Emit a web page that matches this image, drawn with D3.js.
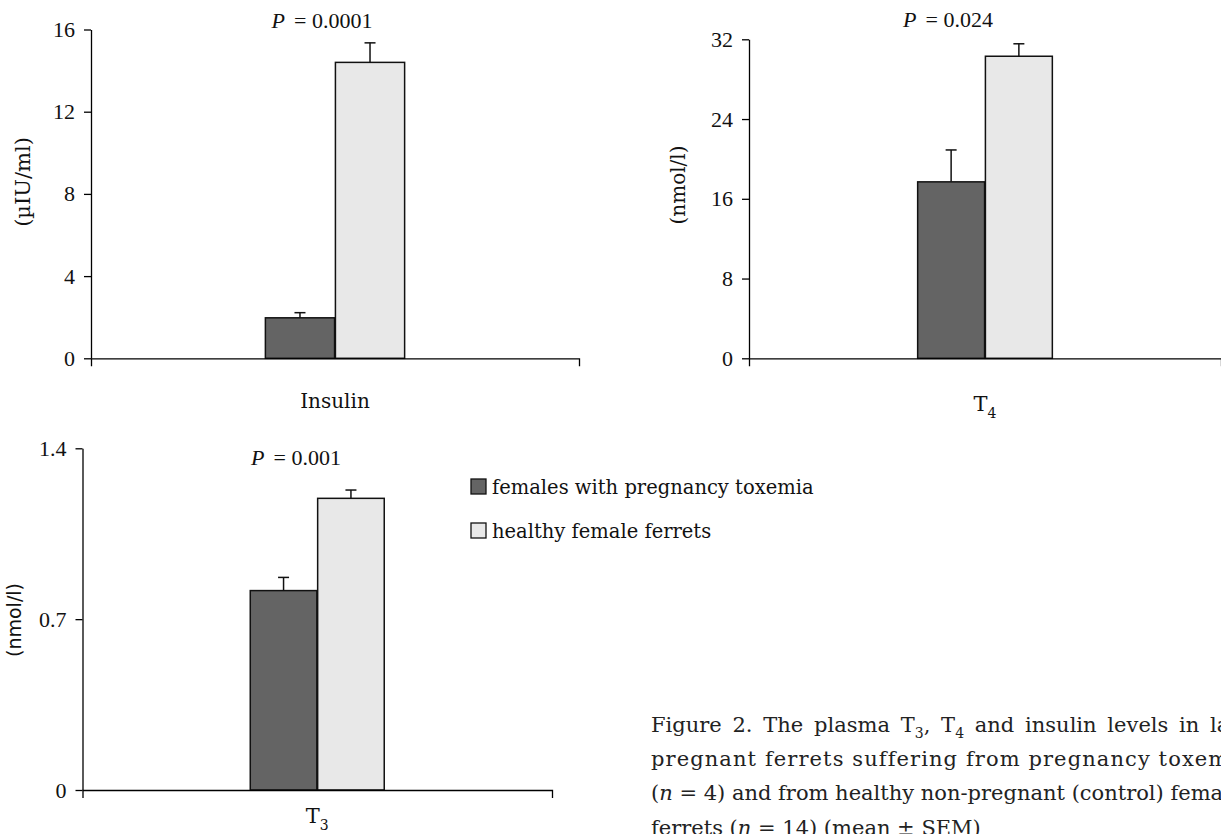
<!DOCTYPE html>
<html>
<head>
<meta charset="utf-8">
<script src="https://cdn.jsdelivr.net/npm/d3@7"></script>
<style>
  body { margin: 0; background: #fff; }
  svg { display: block; font-family: "DejaVu Serif", serif; }
  .axis path, .axis line { stroke: #000; stroke-width: 1.3; }
  .axis text { font-family: "Liberation Serif", serif; font-size: 22px; fill: #111; }
</style>
</head>
<body>
<script>
    // data
    var panelNames = ["Insulin", "T4", "T3"];
    var groups = ["toxemia", "healthy"];
    var toxemiaMean = [1.97, 17.7, 0.817];
    var toxemiaSem = [0.25, 3.2, 0.054];
    var healthyMean = [14.4, 30.3, 1.195];
    var healthySem = [0.95, 1.25, 0.034];
    var yMax = [16, 32, 1.4];
    var yTicks = [[0, 4, 8, 12, 16], [0, 8, 16, 24, 32], [0, 0.7, 1.4]];
    var pValues = ["0.0001", "0.024", "0.001"];
    var units = ["(\u00b5IU/ml)", "(nmol/l)", "(nmol/l)"];
    var legendLabels = ["females with pregnancy toxemia", "healthy female ferrets"];

    var colors = { toxemia: "#646464", healthy: "#e8e8e8" };

    // panel frames: plot area edges plus label anchors
    var frames = [
        { x0: 91, x1: 579, y0: 29.5, y1: 358.3, pX: 322, pY: 28, unitX: 30, unitY: 182, unitSize: 21, labelY: 408 },
        { x0: 749, x1: 1221, y0: 39.3, y1: 358.3, pX: 948, pY: 27, unitX: 685, unitY: 185, unitSize: 20, labelY: 411 },
        { x0: 82.5, x1: 552, y0: 448.3, y1: 790, pX: 296, pY: 465, unitX: 21, unitY: 620, unitSize: 19, labelY: 823 }
    ];

    var svg = d3.select("body").append("svg").attr("width", 1221).attr("height", 834);

    panelNames.forEach(function (name, i) {
        var f = frames[i];
        var g = svg.append("g");

        var y = d3.scaleLinear().domain([0, yMax[i]]).range([f.y1, f.y0]);
        var x = d3.scaleBand().domain([name]).range([f.x0, f.x1]).padding(0.556);
        var xs = d3.scaleBand().domain(groups).range([0, x.bandwidth()]).paddingInner(0.012);

        var rows = [
            { key: "toxemia", mean: toxemiaMean[i], sem: toxemiaSem[i] },
            { key: "healthy", mean: healthyMean[i], sem: healthySem[i] }
        ];

        // bars
        var bars = g.append("g").attr("transform", "translate(" + x(name) + ",0)");
        bars.selectAll("rect").data(rows).enter().append("rect")
            .attr("x", function (d) { return xs(d.key); })
            .attr("width", xs.bandwidth())
            .attr("y", function (d) { return y(d.mean); })
            .attr("height", function (d) { return y(0) - y(d.mean); })
            .attr("fill", function (d) { return colors[d.key]; })
            .attr("stroke", "#111").attr("stroke-width", 1.5);

        // error bars, upper half only
        var err = bars.selectAll(".err").data(rows).enter().append("g").attr("class", "err")
            .attr("stroke", "#111").attr("stroke-width", 1.5);
        err.append("line")
            .attr("x1", function (d) { return xs(d.key) + xs.bandwidth() / 2; })
            .attr("x2", function (d) { return xs(d.key) + xs.bandwidth() / 2; })
            .attr("y1", function (d) { return y(d.mean); })
            .attr("y2", function (d) { return y(d.mean + d.sem); });
        err.append("line")
            .attr("x1", function (d) { return xs(d.key) + xs.bandwidth() / 2 - 5.5; })
            .attr("x2", function (d) { return xs(d.key) + xs.bandwidth() / 2 + 5.5; })
            .attr("y1", function (d) { return y(d.mean + d.sem); })
            .attr("y2", function (d) { return y(d.mean + d.sem); });

        // axes
        g.append("g").attr("class", "axis").attr("transform", "translate(" + f.x0 + ",0)")
            .call(d3.axisLeft(y).tickValues(yTicks[i]).tickSize(7).tickSizeOuter(0).tickPadding(9)
                .tickFormat(function (v) { return String(v); }));
        g.append("g").attr("class", "axis").attr("transform", "translate(0," + f.y1 + ")")
            .call(d3.axisBottom(x).tickValues([]).tickSizeOuter(8));

        // P value
        var p = g.append("text").attr("x", f.pX).attr("y", f.pY).attr("text-anchor", "middle")
            .attr("font-family", "Liberation Serif, serif").attr("font-size", 22).attr("fill", "#111");
        p.append("tspan").attr("font-style", "italic").text("P");
        p.append("tspan").attr("dx", 9).text("= " + pValues[i]);

        // unit label
        g.append("text").attr("transform", "translate(" + f.unitX + "," + f.unitY + ") rotate(-90)")
            .attr("text-anchor", "middle").attr("font-size", f.unitSize).attr("fill", "#111")
            .attr("font-family", i === 2 ? "DejaVu Sans, sans-serif" : null)
            .text(units[i]);

        // category label
        var lab = g.append("text").attr("x", x(name) + x.bandwidth() / 2).attr("y", f.labelY)
            .attr("text-anchor", "middle").attr("font-size", 20).attr("fill", "#111");
        if (name === "Insulin") {
            lab.text(name);
        } else {
            lab.append("tspan").attr("font-size", 21).text(name.charAt(0));
            lab.append("tspan").attr("dy", 7).attr("font-size", 14).text(name.slice(1));
        }
    });

    // legend
    var legend = svg.append("g").attr("transform", "translate(471,479)");
    var li = legend.selectAll("g").data(groups).enter().append("g")
        .attr("transform", function (d, i) { return "translate(0," + (i * 44) + ")"; });
    li.append("rect").attr("width", 15).attr("height", 15)
        .attr("fill", function (d) { return colors[d]; })
        .attr("stroke", "#111").attr("stroke-width", 1.3);
    li.append("text").attr("x", 21).attr("y", 15).attr("font-size", 19.5).attr("fill", "#111")
        .text(function (d, i) { return legendLabels[i]; });

    // caption, runs out past the right edge as in the source page
    var cap = svg.append("g").attr("transform", "translate(651,0)").attr("font-size", 21).attr("fill", "#222");
    var l1 = cap.append("text").attr("y", 732);
    l1.append("tspan").text("Figure 2. The plasma T");
    l1.append("tspan").attr("dy", 6).attr("font-size", 14).text("3");
    l1.append("tspan").attr("dy", -6).text(", T");
    l1.append("tspan").attr("dy", 6).attr("font-size", 14).text("4");
    l1.append("tspan").attr("dy", -6).text(" and insulin levels in late");
    var l2 = cap.append("text").attr("y", 766).text("pregnant ferrets suffering from pregnancy toxemia");
    var l3 = cap.append("text").attr("y", 800);
    l3.append("tspan").text("(");
    l3.append("tspan").attr("font-style", "italic").text("n");
    l3.append("tspan").text("  = 4) and from healthy non-pregnant (control) female");
    var l4 = cap.append("text").attr("y", 835);
    l4.append("tspan").text("ferrets (");
    l4.append("tspan").attr("font-style", "italic").text("n");
    l4.append("tspan").text(" = 14) (mean \u00b1 SEM)");

    // justify: stretch line 1 by word spacing and line 2 by letter spacing
    var pre1 = "Figure 2. The plasma T3, T4 and insulin levels in ";
    var w1 = l1.node().getSubStringLength(0, pre1.length);
    l1.style("word-spacing", ((555 - w1) / 9) + "px");
    var pre2 = "pregnant ferrets suffering from pregnancy ";
    var w2 = l2.node().getSubStringLength(0, pre2.length);
    l2.style("letter-spacing", ((507 - w2) / pre2.length) + "px");
</script>
</body>
</html>
